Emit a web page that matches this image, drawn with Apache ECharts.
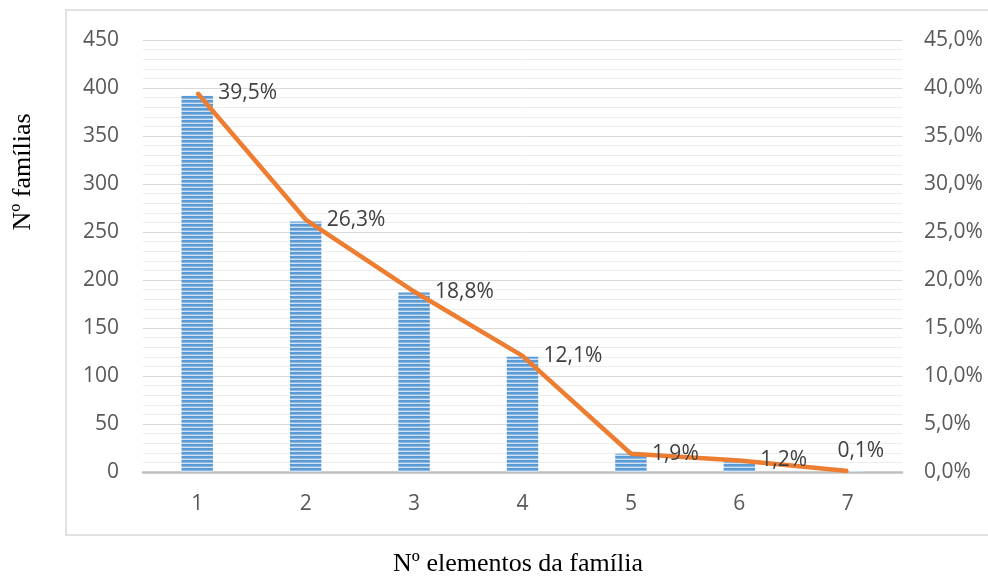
<!DOCTYPE html>
<html>
<head>
<meta charset="utf-8">
<script src="https://cdn.jsdelivr.net/npm/echarts@6/dist/echarts.min.js"></script>
<style>html,body{margin:0;padding:0;background:#fff}#c{width:988px;height:576px}</style>
</head>
<body>
<div id="c"></div>
<script>
var categories = ['1','2','3','4','5','6','7'];
var familyCounts = [392, 261, 187, 120, 19, 12, 1];
var percentages = [39.5, 26.3, 18.8, 12.1, 1.9, 1.2, 0.1];
var leftTicks = {min: 0, max: 450, interval: 50};
var rightTicks = {min: 0, max: 45, interval: 5};

function stripePattern() {
  var cv = document.createElement('canvas');
  cv.width = 4; cv.height = 4;
  var ctx = cv.getContext('2d');
  ctx.fillStyle = '#5B9BD5'; ctx.fillRect(0, 0, 4, 2);
  ctx.fillStyle = '#8DB8E2'; ctx.fillRect(0, 2, 4, 1);
  ctx.fillStyle = '#CFE1F3'; ctx.fillRect(0, 3, 4, 1);
  return cv;
}

var chart = echarts.init(document.getElementById('c'), null, {renderer: 'canvas'});
var lastIndex = percentages.length - 1;
var lineData = percentages.map(function (v, i) {
  var item = {value: v};
  if (i === lastIndex) {
    item.label = {position: 'top'};
  }
  return item;
});
var font = '"Open Sans", "Liberation Sans", sans-serif';
function pct(v) { return Number(v).toFixed(1).replace('.', ',') + '%'; }
chart.setOption({
  animation: false,
  graphic: [
    {type: 'rect', shape: {x: 66, y: 10, width: 940, height: 525},
     style: {fill: 'none', stroke: '#D9D9D9', lineWidth: 1.5}, z: -1},
    {type: 'text', x: 23, y: 172, rotation: Math.PI / 2,
     style: {text: 'Nº famílias', font: '26px "Liberation Serif", serif', fill: '#000', align: 'center', verticalAlign: 'middle'}},
    {type: 'text', x: 518, y: 564,
     style: {text: 'Nº elementos da família', font: '26px "Liberation Serif", serif', fill: '#000', align: 'center', verticalAlign: 'middle'}}
  ],
  grid: {left: 143, right: 86, top: 40, bottom: 104},
  xAxis: {
    type: 'category', data: categories,
    axisLine: {lineStyle: {color: '#BFBFBF', width: 2.5}},
    axisTick: {show: false},
    axisLabel: {color: '#595959', fontSize: 21, fontFamily: font, margin: 22}
  },
  yAxis: [
    {type: 'value', min: leftTicks.min, max: leftTicks.max, interval: leftTicks.interval,
     axisLine: {show: false}, axisTick: {show: false},
     axisLabel: {color: '#595959', fontSize: 21, fontFamily: font, margin: 24},
     splitLine: {lineStyle: {color: '#D9D9D9', width: 1}},
     minorTick: {show: false, splitNumber: 5},
     minorSplitLine: {show: true, lineStyle: {color: '#EDEDED', width: 1}}},
    {type: 'value', min: rightTicks.min, max: rightTicks.max, interval: rightTicks.interval,
     axisLine: {show: false}, axisTick: {show: false},
     axisLabel: {color: '#595959', fontSize: 21, fontFamily: font, margin: 22,
       formatter: function (v) { return pct(v); }},
     splitLine: {show: false}}
  ],
  series: [
    {type: 'bar', data: familyCounts, barWidth: '29%', yAxisIndex: 0,
     itemStyle: {color: {image: stripePattern(), repeat: 'repeat'}}},
    {type: 'line', data: lineData, yAxisIndex: 1, symbol: 'circle', symbolSize: 2, showSymbol: true,
     itemStyle: {color: '#ED7D31'},
     lineStyle: {color: '#ED7D31', width: 4.5},
     labelLayout: function (p) {
       if (p.dataIndex === lastIndex) { return {dx: 13, dy: 11, hideOverlap: false}; }
       return {hideOverlap: false};
     },
     label: {show: true, position: 'right', distance: 20, color: '#404040', fontSize: 21, fontFamily: font,
       formatter: function (p) { return pct(p.value); }}}
  ]
});
</script>
</body>
</html>
